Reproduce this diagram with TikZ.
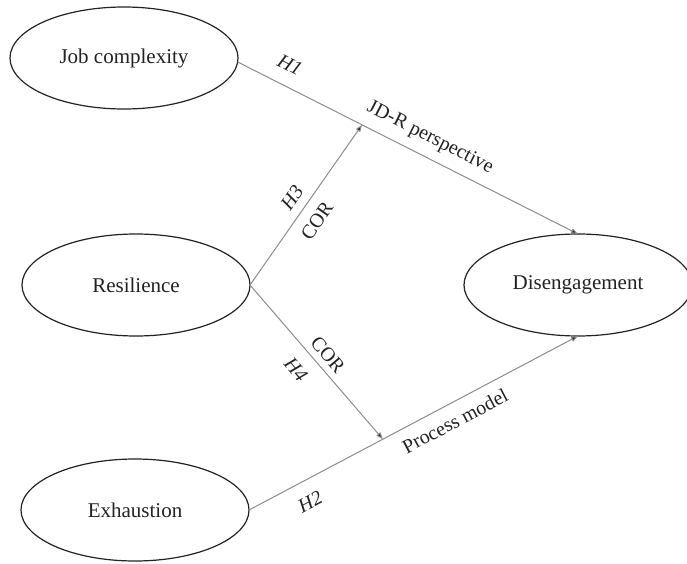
\documentclass[tikz,border=0pt]{standalone}
\usepackage{fontspec}
\setmainfont{Liberation Serif}
\usetikzlibrary{shapes.geometric,arrows.meta,calc}
\definecolor{edgegray}{HTML}{8C8C8C}
\definecolor{inkdark}{HTML}{222222}
\tikzset{
  factor/.style={ellipse,draw=inkdark,line width=1.2pt,minimum width=228pt,minimum height=102pt,inner sep=0pt,outer sep=0pt,font=\fontsize{21}{25}\selectfont,text=inkdark},
  link/.style={draw=edgegray,line width=1pt,-{Triangle[length=7pt,width=5pt,fill=inkdark]}},
  plainlink/.style={draw=edgegray,line width=1pt},
  lbl/.style={font=\fontsize{20}{24}\selectfont,text=inkdark,inner sep=0pt},
  hlbl/.style={lbl,font=\fontsize{20}{24}\selectfont\itshape}
}
\begin{document}
\begin{tikzpicture}[x=1pt,y=-1pt]
\useasboundingbox (0,0) rectangle (687,564);
\node[factor] (jc) at (124,58) {Job complexity};
\node[factor] (res) at (136,285) {Resilience};
\node[factor] (ex) at (135,510) {Exhaustion};
\node[factor] (dis) at (578,285) {Disengagement};
\coordinate (m1) at ($(jc.-2)!0.3655!(dis.north)$);
\coordinate (m2) at ($(ex.east)!0.407!(dis.south)$);
\draw[link] (jc.-2) -- (dis.north);
\draw[link] (ex.east) -- (dis.south);
\draw[link] (res.east) -- (m1);
\draw[link] (res.east) -- (m2);
\node[hlbl,rotate=-26.7] (h1) at (290,65) {H1};
\node[lbl,rotate=-26.7] (jdr) at (430,138) {JD-R perspective};
\node[hlbl,rotate=55] (h3) at (292,198) {H3};
\node[lbl,rotate=55] (cor1) at (317,221) {COR};
\node[lbl,rotate=-49.5] (cor2) at (328,355) {COR};
\node[hlbl,rotate=-49.5] (h4) at (296,370) {H4};
\node[hlbl,rotate=27.7] (h2) at (310,502) {H2};
\node[lbl,rotate=27.7] (pm) at (455,421) {Process model};
\end{tikzpicture}
\end{document}
